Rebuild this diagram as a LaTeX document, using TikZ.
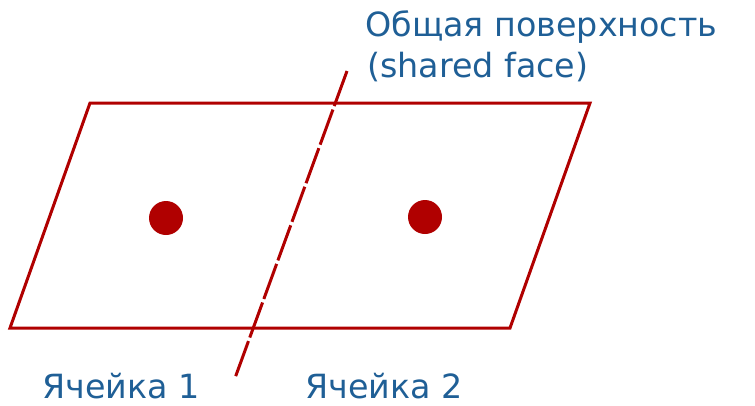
\documentclass[tikz,border=0pt]{standalone}
\usepackage{fontspec}
\setmainfont{DejaVu Sans}
\usetikzlibrary{positioning}
\definecolor{cellred}{HTML}{B00000}
\definecolor{labelblue}{HTML}{1F5F96}
\tikzset{
  celledge/.style={draw=cellred, line width=2.25pt, line join=miter},
  % the shared face, cut into long dashes
  faceline/.style={draw=cellred, line width=2.25pt,
                   dash pattern=on 28pt off 2.8pt},
  centre/.style={circle, fill=cellred, minimum size=25.5pt, inner sep=0pt},
  lbl/.style={text=labelblue, font=\fontsize{25}{30}\selectfont,
              anchor=base west, inner sep=0pt},
}
\begin{document}
\begin{tikzpicture}[x=0.75pt, y=-0.75pt]
\useasboundingbox (0,0) rectangle (755,405);
% corners of the two cells
\coordinate (tl) at (90,103);
\coordinate (tr) at (590,103);
\coordinate (br) at (510,328);
\coordinate (bl) at (10,328);
\draw[celledge] (tl) -- (tr) -- (br) -- (bl) -- cycle;
% shared face
\coordinate (ftop) at (347,71);
\coordinate (fbot) at (235,378);
\draw[faceline] (ftop) -- (fbot);
% cell centres
\node[centre] (c1) at (166,218) {};
\node[centre] (c2) at (425,217) {};
% labels
\node[lbl] (face) at (365,36) {Общая поверхность};
\node[lbl] (faceen) at (367,77) {(shared face)};
\node[lbl] (cell1) at (42,398) {Ячейка 1};
\node[lbl] (cell2) at (305,398) {Ячейка 2};
\end{tikzpicture}
\end{document}
